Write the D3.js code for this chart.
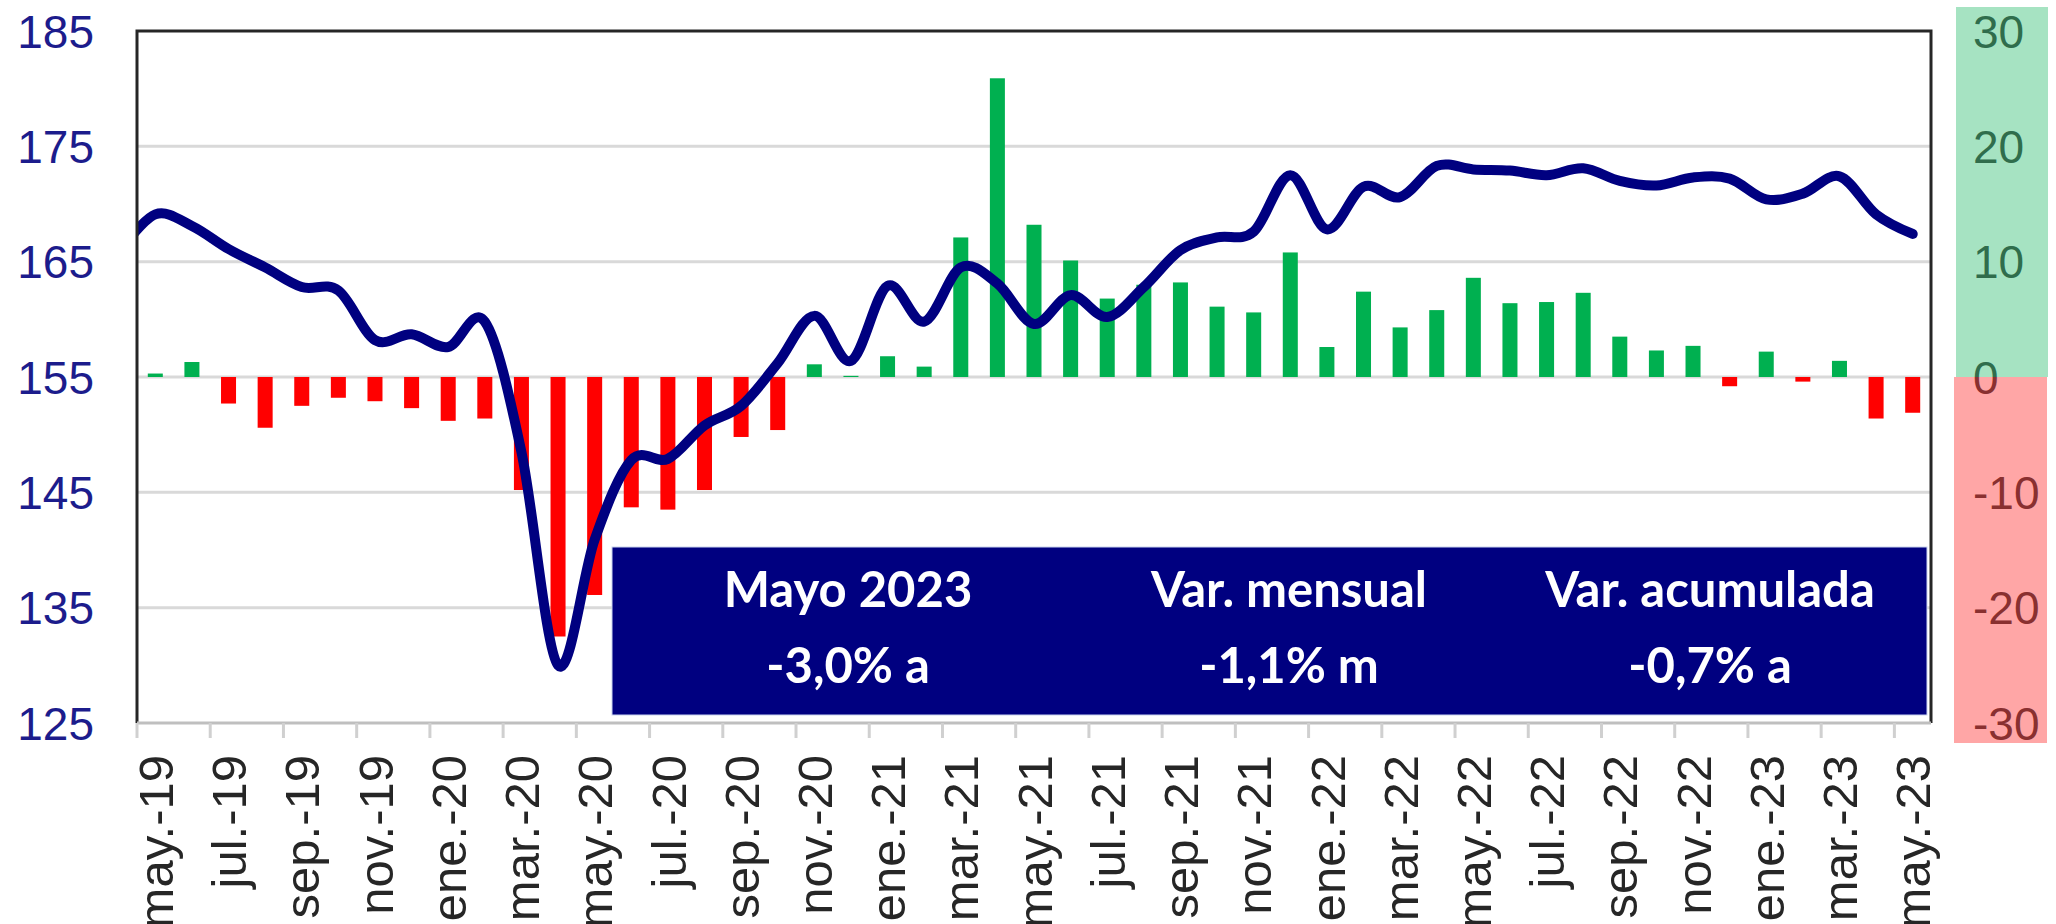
<!DOCTYPE html>
<html>
<head>
<meta charset="utf-8">
<script src="https://cdn.jsdelivr.net/npm/d3@7"></script>
<style>
  html, body { margin: 0; padding: 0; background: #fff; }
  svg { display: block; }
</style>
</head>
<body>
<div id="wrapper"></div>
<script>
// months shown on the category axis (may.-19 .. may.-23)
const months = ["may.-19","jun.-19","jul.-19","ago.-19","sep.-19","oct.-19","nov.-19","dic.-19",
  "ene.-20","feb.-20","mar.-20","abr.-20","may.-20","jun.-20","jul.-20","ago.-20","sep.-20","oct.-20","nov.-20","dic.-20",
  "ene.-21","feb.-21","mar.-21","abr.-21","may.-21","jun.-21","jul.-21","ago.-21","sep.-21","oct.-21","nov.-21","dic.-21",
  "ene.-22","feb.-22","mar.-22","abr.-22","may.-22","jun.-22","jul.-22","ago.-22","sep.-22","oct.-22","nov.-22","dic.-22",
  "ene.-23","feb.-23","mar.-23","abr.-23","may.-23"];

// index level (left axis)
const indexVals = [169.1,168.1,166.1,164.5,162.8,162.5,158.2,158.7,
  157.6,159.8,148.5,130.0,140.9,147.8,147.9,150.8,152.5,156.2,160.3,156.4,
  162.9,159.8,164.5,163.1,159.6,162.1,160.2,162.8,166.0,167.1,167.6,172.5,
  167.8,171.5,170.6,173.3,173.0,172.9,172.5,173.1,172.0,171.6,172.3,172.2,
  170.4,170.9,172.4,169.1,167.4];
// abr.-19, the point before the first month; the line comes in from it at the left edge
const indexPrev = 165.8;

// annual variation, % (right axis)
const annualVar = [0.3,1.3,-2.3,-4.4,-2.5,-1.8,-2.1,-2.7,
  -3.8,-3.6,-9.8,-22.5,-18.9,-11.3,-11.5,-9.8,-5.2,-4.6,1.1,0.1,
  1.8,0.9,12.1,25.9,13.2,10.1,6.8,8.0,8.2,6.1,5.6,10.8,
  2.6,7.4,4.3,5.8,8.6,6.4,6.5,7.3,3.5,2.3,2.7,-0.8,
  2.2,-0.4,1.4,-3.6,-3.1];

const leftTicks = [125,135,145,155,165,175,185];
const rightTicks = [-30,-20,-10,0,10,20,30];

const boxTitles = ["Mayo 2023","Var. mensual","Var. acumulada"];
const boxValues = ["-3,0% a","-1,1% m","-0,7% a"];

const W = 2056, H = 924;
const m = {left: 137, right: 1931, top: 31, bottom: 723};

var svg = d3.select("#wrapper").append("svg")
  .attr("width", W).attr("height", H);

var x = d3.scaleBand().domain(months).range([m.left, m.right])
  .paddingInner(0.59).paddingOuter(0.295);
var yL = d3.scaleLinear().domain([125, 185]).range([m.bottom, m.top]);
var yR = d3.scaleLinear().domain([-30, 30]).range([m.bottom, m.top]);
const step = x.step(), bw = x.bandwidth();
const cx = d => x(d) + bw / 2;

// gridlines
svg.append("g").selectAll("line")
  .data(leftTicks.filter(t => t > 125 && t < 185))
  .enter().append("line")
  .attr("x1", m.left).attr("x2", m.right)
  .attr("y1", d => yL(d)).attr("y2", d => yL(d))
  .attr("stroke", "#d9d9d9").attr("stroke-width", 3);

// bars
svg.append("g").selectAll("rect")
  .data(annualVar)
  .enter().append("rect")
  .attr("x", (d, i) => x(months[i]))
  .attr("width", bw)
  .attr("y", d => yR(Math.max(0, d)))
  .attr("height", d => Math.abs(yR(d) - yR(0)))
  .attr("fill", d => d >= 0 ? "#00b050" : "#ff0000");

// clip for the smoothed line
svg.append("clipPath").attr("id", "plotclip").append("rect")
  .attr("x", m.left).attr("y", m.top)
  .attr("width", m.right - m.left).attr("height", m.bottom - m.top);

var pts = [[cx(months[0]) - step, yL(indexPrev)]]
  .concat(indexVals.map((v, i) => [cx(months[i]), yL(v)]));

svg.append("path")
  .attr("clip-path", "url(#plotclip)")
  .attr("d", d3.line().curve(d3.curveCardinal.tension(0))(pts))
  .attr("fill", "none").attr("stroke", "#000080")
  .attr("stroke-width", 10).attr("stroke-linejoin", "round").attr("stroke-linecap", "round");

// plot frame: dark top/left/right, grey category axis at the bottom
svg.append("path")
  .attr("d", `M${m.left},${m.bottom}V${m.top}H${m.right}V${m.bottom}`)
  .attr("fill", "none").attr("stroke", "#262626").attr("stroke-width", 3);
svg.append("line")
  .attr("x1", m.left).attr("x2", m.right).attr("y1", m.bottom).attr("y2", m.bottom)
  .attr("stroke", "#bfbfbf").attr("stroke-width", 3);

// category ticks at every second boundary
var tickCats = months.filter((d, i) => i % 2 === 0);
svg.append("g").selectAll("line")
  .data(tickCats)
  .enter().append("line")
  .attr("x1", d => x(d) - (step - bw) / 2).attr("x2", d => x(d) - (step - bw) / 2)
  .attr("y1", m.bottom).attr("y2", m.bottom + 15)
  .attr("stroke", "#d0d0d0").attr("stroke-width", 3);

svg.append("g").selectAll("text")
  .data(tickCats)
  .enter().append("text")
  .attr("transform", d => `translate(${cx(d)},755) rotate(-90)`)
  .attr("text-anchor", "end").attr("dy", "0.36em")
  .style("font-family", "'Liberation Sans', Arial, sans-serif")
  .style("font-size", "49px").style("fill", "#262626")
  .text(d => d);

// left axis labels
svg.append("g").selectAll("text")
  .data(leftTicks)
  .enter().append("text")
  .attr("x", 94).attr("y", d => yL(d)).attr("dy", "0.36em")
  .attr("text-anchor", "end")
  .style("font-family", "'Liberation Sans', Arial, sans-serif")
  .style("font-size", "46px").style("fill", "#1c1c8c")
  .text(d => d);

// right axis labels, tinted by translucent bands laid over them
svg.append("g").selectAll("text")
  .data(rightTicks)
  .enter().append("text")
  .attr("x", 1973).attr("y", d => yR(d)).attr("dy", "0.36em")
  .attr("text-anchor", "start")
  .style("font-family", "'Liberation Sans', Arial, sans-serif")
  .style("font-size", "46px").style("fill", "#4a4a4a")
  .text(d => d);

svg.append("rect")
  .attr("x", 1956).attr("width", 92)
  .attr("y", yR(30) - 24).attr("height", yR(0) - yR(30) + 24)
  .attr("fill", "#00b050").attr("fill-opacity", 0.35);
svg.append("rect")
  .attr("x", 1954).attr("width", 93)
  .attr("y", yR(0)).attr("height", yR(-30) - yR(0) + 20)
  .attr("fill", "#ff0000").attr("fill-opacity", 0.35);

// summary box
var box = svg.append("g");
box.append("rect")
  .attr("x", 612).attr("y", 547).attr("width", 1927 - 612).attr("height", 168)
  .attr("fill", "#000080").attr("stroke", "#c9d3ee").attr("stroke-width", 1);
const colX = [848, 1289, 1710];
box.selectAll(".t").data(boxTitles).enter().append("text")
  .attr("class", "t")
  .attr("x", (d, i) => colX[i]).attr("y", 607)
  .attr("text-anchor", "middle")
  .style("font-family", "Lato, 'Open Sans', sans-serif").style("font-weight", "bold")
  .style("font-size", "49px").style("fill", "#fff")
  .text(d => d);
box.selectAll(".v").data(boxValues).enter().append("text")
  .attr("class", "v")
  .attr("x", (d, i) => colX[i]).attr("y", 683)
  .attr("text-anchor", "middle")
  .style("font-family", "Lato, 'Open Sans', sans-serif").style("font-weight", "bold")
  .style("font-size", "49px").style("fill", "#fff")
  .text(d => d);
</script>
</body>
</html>
